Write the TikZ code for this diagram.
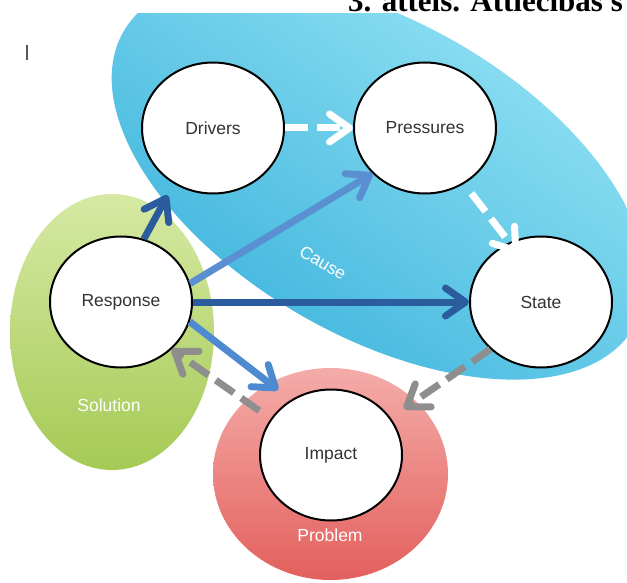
\documentclass[tikz,border=0pt]{standalone}
\usepackage{fontspec}
\setmainfont{Liberation Sans}
\newfontfamily\titlefont{Liberation Serif}
\usetikzlibrary{arrows.meta,shapes.geometric}
\definecolor{cyanL}{HTML}{98E5F5}
\definecolor{cyanD}{HTML}{38B1DB}
\definecolor{greenL}{HTML}{D6E9A4}
\definecolor{greenD}{HTML}{A5CA55}
\definecolor{redL}{HTML}{F4ACA9}
\definecolor{redD}{HTML}{E3605D}
\definecolor{dblue}{HTML}{2A5C9E}
\definecolor{mblue}{HTML}{5A8FD1}
\definecolor{mblueB}{HTML}{4D8ACF}
\definecolor{grayA}{HTML}{8E8E8E}
\definecolor{txt}{HTML}{333333}
\newcommand\lblfont{\fontsize{17.5}{20}\selectfont}
\begin{document}
\begin{tikzpicture}[x=1pt,y=-1pt,
  bubble/.style={ellipse, draw=black, line width=2pt, fill=white,
    minimum width=142pt, minimum height=131pt, inner sep=0pt,
    font=\lblfont, text=txt},
  zone/.style={ellipse, inner sep=0pt},
  zlabel/.style={font=\lblfont, text=white},
  arr/.style={line width=7pt, -{Straight Barb[length=20pt,width=28pt,round]}},
  dashw/.style={arr, draw=white, dash pattern=on 23pt off 9pt},
  dashg/.style={arr, draw=grayA, dash pattern=on 22pt off 9pt},
]
\useasboundingbox (0,0) rectangle (627,583);
\begin{scope}
\clip (0,0) rectangle (627,583);
% zones
\node[zone, minimum width=204pt, minimum height=276pt,
  top color=greenL, bottom color=greenD] (solzone) at (112,332) {};
\shade[top color=cyanL, bottom color=cyanD, shading angle=-35]
  (379,179) ellipse [x radius=295, y radius=157, rotate=-30];
\node[zone, minimum width=235pt, minimum height=212pt,
  top color=redL, bottom color=redD] (probzone) at (330.5,474) {};
% title band
\fill[white] (0,0) rectangle (627,13);
\node[anchor=base west, inner sep=0pt,
  font=\titlefont\bfseries\fontsize{31}{31}\selectfont] (title) at (348,11.5) {3. attēls. Attiecības s};
\draw[gray!70!black, line width=1.5pt] (27,45) -- (27,60);
% zone labels
\node[zlabel, rotate=-30] (cause) at (323,263) {Cause};
\node[zlabel] (solution) at (109,405) {Solution};
\node[zlabel] (problem) at (330,535) {Problem};
% bubbles
\node[bubble] (Drivers) at (213,128) {Drivers};
\node[bubble] (Pressures) at (425,128) {Pressures};
\node[bubble] (State) at (541,302) {State};
\node[bubble] (Response) at (121,302) {Response};
\node[bubble] (Impact) at (331,455) {Impact};
% connectors
\draw[dashw] (Drivers) -- (Pressures);
\draw[dashw, shorten <=12pt, shorten >=-14pt] (Pressures.-55) -- (State.118);
\draw[arr, draw=dblue, shorten >=13pt] (Response.70) -- (Drivers.235);
\draw[arr, draw=mblue] (Response.15) -- (Pressures.221);
\draw[arr, draw=dblue] (Response) -- (State);
\draw[arr, draw=mblueB, shorten >=16pt] (Response.-16) -- (Impact.126);
\draw[dashg, shorten <=14pt] (Impact.149) -- (Response.-43);
\draw[dashg, shorten >=16pt] (State.223) -- (Impact.32);
\end{scope}
\end{tikzpicture}
\end{document}
